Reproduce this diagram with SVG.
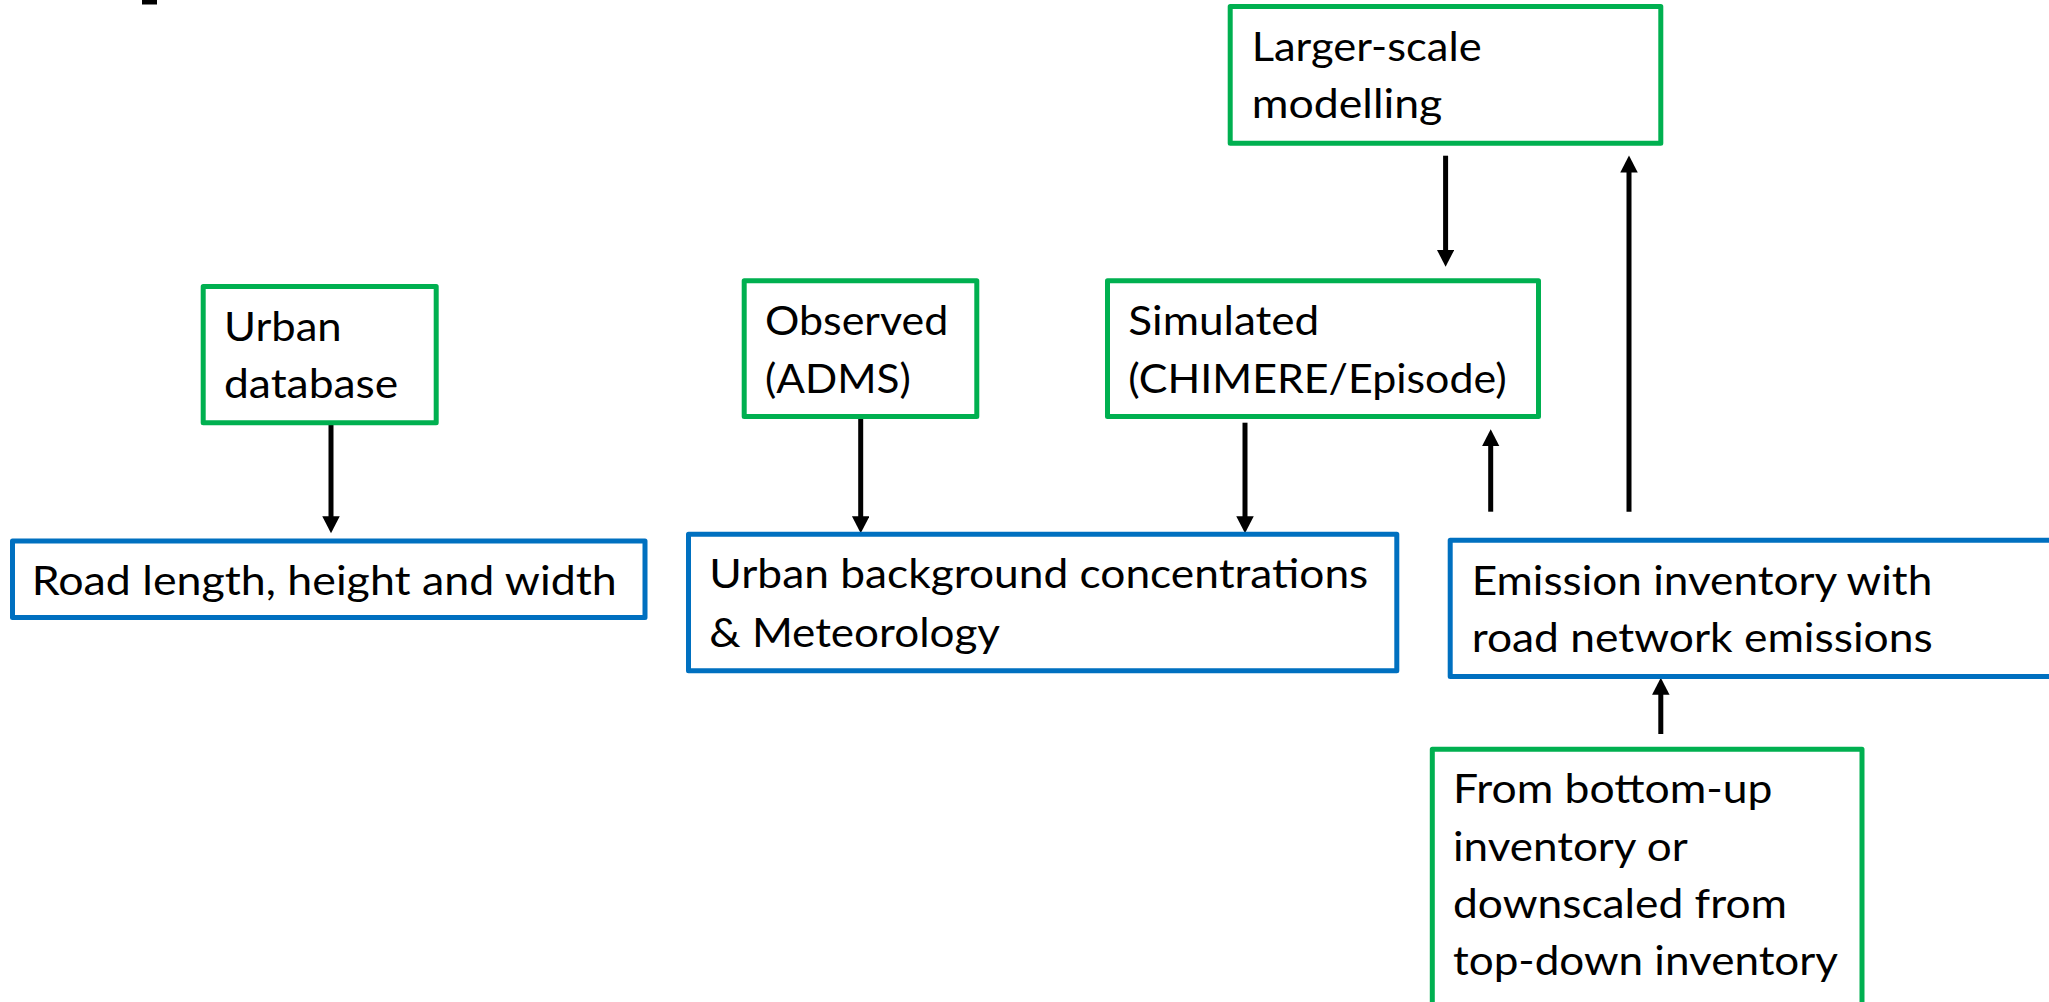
<svg xmlns="http://www.w3.org/2000/svg" width="2049" height="1002" viewBox="0 0 2049 1002">
  <defs>
    <style>
      .g { fill: #ffffff; stroke: #00B050; stroke-width: 5; stroke-linejoin: round; }
      .b { fill: #ffffff; stroke: #0070C0; stroke-width: 5; stroke-linejoin: round; }
      .t { font-family: Lato, "Open Sans", "Liberation Sans", sans-serif; font-size: 41px; fill: #000000; }
      .c { stroke: #000000; stroke-width: 5; fill: none; marker-end: url(#ah); }
    </style>
    <marker id="ah" markerUnits="userSpaceOnUse" markerWidth="18" markerHeight="18" refX="1" refY="8.75" orient="auto">
      <path d="M0,0 L17,8.75 L0,17.5 z" fill="#000000"/>
    </marker>
  </defs>
  <rect width="2049" height="1002" fill="#ffffff"/>
  <rect x="142" y="0" width="15" height="4.5" fill="#000000"/>

  <g id="connectors">
    <line class="c" x1="331" y1="416" x2="331" y2="517.3"/>
    <line class="c" x1="860.7" y1="416" x2="860.7" y2="517.3"/>
    <line class="c" x1="1245" y1="422.7" x2="1245" y2="517.3"/>
    <line class="c" x1="1445.6" y1="155.7" x2="1445.6" y2="250.7"/>
    <line class="c" x1="1490.7" y1="511.7" x2="1490.7" y2="445.3"/>
    <line class="c" x1="1629" y1="511.7" x2="1629" y2="171.5"/>
    <line class="c" x1="1660.8" y1="734" x2="1660.8" y2="693.7"/>
  </g>

  <g id="urban-database">
    <rect class="g" x="203.2" y="286.5" width="233" height="136.3"/>
    <text class="t" x="224" y="340.7" textLength="117.7" lengthAdjust="spacingAndGlyphs">Urban</text>
    <text class="t" x="224" y="398.3" textLength="174.3" lengthAdjust="spacingAndGlyphs">database</text>
  </g>

  <g id="road">
    <rect class="b" x="12.5" y="541" width="632.5" height="76.5"/>
    <text class="t" x="31.7" y="595" textLength="585" lengthAdjust="spacingAndGlyphs">Road length, height and width</text>
  </g>

  <g id="observed">
    <rect class="g" x="744.2" y="280.8" width="232.6" height="135.7"/>
    <text class="t" x="765" y="335" textLength="183.3" lengthAdjust="spacingAndGlyphs">Observed</text>
    <text class="t" x="765" y="393.3" textLength="145.7" lengthAdjust="spacingAndGlyphs">(ADMS)</text>
  </g>

  <g id="simulated">
    <rect class="g" x="1107.5" y="280.8" width="431" height="135.7"/>
    <text class="t" x="1128.3" y="335" textLength="191" lengthAdjust="spacingAndGlyphs">Simulated</text>
    <text class="t" x="1128.3" y="393.3" textLength="378.3" lengthAdjust="spacingAndGlyphs">(CHIMERE/Episode)</text>
  </g>

  <g id="larger-scale">
    <rect class="g" x="1230.2" y="6.5" width="430.6" height="136.7"/>
    <text class="t" x="1251.7" y="61" textLength="230" lengthAdjust="spacingAndGlyphs">Larger-scale</text>
    <text class="t" x="1251.7" y="118.3" textLength="190.6" lengthAdjust="spacingAndGlyphs">modelling</text>
  </g>

  <g id="urban-background">
    <rect class="b" x="688.5" y="534.2" width="708.3" height="136.6"/>
    <text class="t" x="709.3" y="588.3" textLength="659" lengthAdjust="spacingAndGlyphs">Urban background concentrations</text>
    <text class="t" x="709.3" y="646.7" textLength="290.7" lengthAdjust="spacingAndGlyphs">&amp; Meteorology</text>
  </g>

  <g id="emission-inventory">
    <rect class="b" x="1450.2" y="540.2" width="640" height="136.3"/>
    <text class="t" x="1471.7" y="595" textLength="460.6" lengthAdjust="spacingAndGlyphs">Emission inventory with</text>
    <text class="t" x="1471.7" y="651.7" textLength="461" lengthAdjust="spacingAndGlyphs">road network emissions</text>
  </g>

  <g id="bottom-up">
    <rect class="g" x="1432.3" y="749.2" width="429.7" height="300"/>
    <text class="t" x="1453" y="802.7" textLength="319.5" lengthAdjust="spacingAndGlyphs">From bottom-up</text>
    <text class="t" x="1453" y="860.7" textLength="234.7" lengthAdjust="spacingAndGlyphs">inventory or</text>
    <text class="t" x="1453" y="917.7" textLength="334" lengthAdjust="spacingAndGlyphs">downscaled from</text>
    <text class="t" x="1453" y="975" textLength="385" lengthAdjust="spacingAndGlyphs">top-down inventory</text>
  </g>
</svg>
